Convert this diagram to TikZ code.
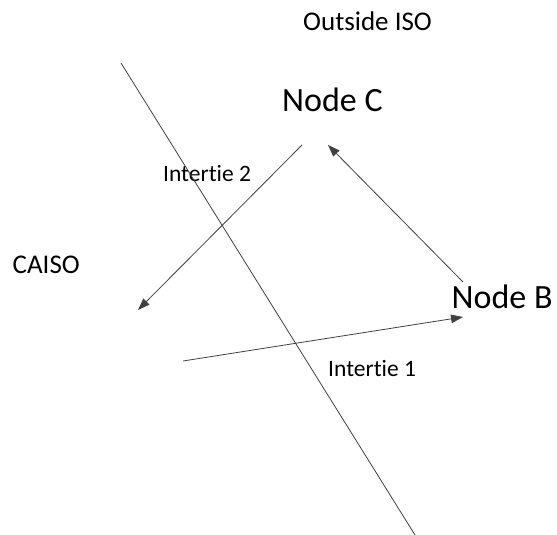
\documentclass[tikz,border=0pt]{standalone}
\usepackage{fontspec}
\setmainfont{Carlito}[Ligatures={NoCommon}]
\usetikzlibrary{arrows.meta}
\definecolor{ln}{RGB}{64,64,64}
\begin{document}
\begin{tikzpicture}[x=1pt,y=-1pt,
  lbl/.style={inner sep=0pt,anchor=base west,text=black},
  big/.style={lbl,font=\fontsize{34}{40}\selectfont},
  mid/.style={lbl,font=\fontsize{27}{32}\selectfont},
  sml/.style={lbl,font=\fontsize{23.5}{28}\selectfont},
  conn/.style={draw=ln,line width=0.8pt},
  arr/.style={conn,-{Triangle[length=12pt,width=8.5pt]},ln}]
\useasboundingbox (0,0) rectangle (557,535);
\node[mid] (outside) at (303,30.5) {Outside ISO};
\node[big] (nodec) at (282,111.5) {Node C};
\node[sml] (it2) at (163,181.5) {Intertie 2};
\node[mid] (caiso) at (12.5,273) {CAISO};
\node[big] (nodeb) at (451.5,308) {Node B};
\node[sml] (it1) at (328,376) {Intertie 1};
\coordinate (bt) at (121,63);
\coordinate (bb) at (415,535);
\coordinate (a2s) at (302,145);
\coordinate (a2e) at (138,310);
\coordinate (bcs) at (463,282);
\coordinate (bce) at (328,145);
\coordinate (a1s) at (183,361);
\coordinate (a1e) at (463,317);
\draw[conn] (bt) -- (bb);
\draw[arr] (a2s) -- (a2e);
\draw[arr] (bcs) -- (bce);
\draw[arr] (a1s) -- (a1e);
\end{tikzpicture}
\end{document}
